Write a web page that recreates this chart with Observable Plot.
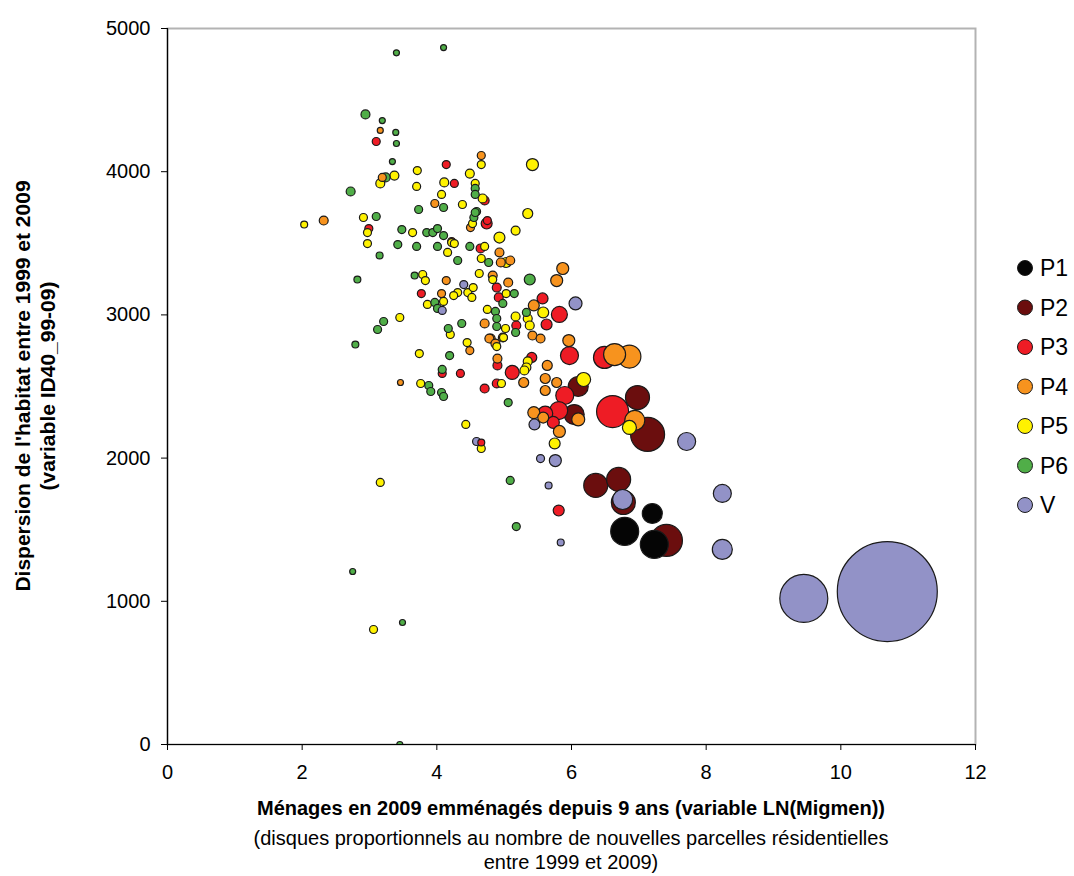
<!DOCTYPE html>
<html><head><meta charset="utf-8">
<script src="https://cdn.jsdelivr.net/npm/d3@7"></script>
<script src="https://cdn.jsdelivr.net/npm/@observablehq/plot@0.6"></script>
<style>
body{margin:0;background:#fff;}
#wrap{width:1074px;height:876px;}
</style></head><body><div id="wrap"></div>
<script>
// categories and colours
const groups = ["P1","P2","P3","P4","P5","P6","V"];
const colors = ["#050505","#6b0e0e","#ee1c25","#f7931e","#fff200","#50ae48","#9292c7"];
const xTicks = [0,2,4,6,8,10,12];
const yTicks = [0,1000,2000,3000,4000,5000];
// [LN(Migmen), ID40_99-09, nouvelles parcelles]
const P1 = [[7.20,1613,100],[6.79,1488,196],[7.23,1397,196]];
const P2 = [[6.10,2500,100],[6.98,2423,144],[7.13,2165,289],[6.04,2304,100],[6.36,1809,144],[6.70,1851,144],[6.77,1690,144],[7.41,1425,256]];
const P3 = [[3.10,4211,16],[4.14,4050,16],[4.26,3918,16],[4.71,3799,20],[4.75,3659,16],[2.99,3603,16],[4.74,3638,30],[4.65,3464,20],[4.89,3191,20],[4.92,3122,20],[3.77,3149,16],[5.18,2926,20],[5.57,3115,30],[5.82,3003,64],[5.63,2933,30],[4.08,2591,16],[4.35,2591,16],[4.90,2647,20],[5.12,2598,49],[4.71,2486,20],[4.89,2521,20],[4.66,2109,12],[5.81,1634,30],[5.41,2703,25],[5.97,2716,81],[6.49,2703,121],[5.90,2437,81],[6.61,2325,256],[5.81,2332,81],[5.61,2311,56],[5.73,2249,36],[4.22,3512,16]];
const P4 = [[3.16,4288,9],[4.66,4113,16],[3.19,3960,16],[3.97,3778,16],[2.32,3659,20],[4.50,3610,16],[4.93,3436,20],[4.95,3366,20],[5.09,3380,20],[4.83,3275,20],[5.06,3226,20],[5.78,3240,36],[5.87,3324,36],[4.14,3240,16],[4.07,3149,16],[5.44,3066,30],[4.71,2940,20],[4.80,2835,20],[4.98,2842,20],[5.42,2856,20],[5.54,2835,20],[4.49,2751,16],[4.90,2695,20],[5.64,2647,25],[5.29,2528,25],[5.61,2556,25],[5.61,2472,25],[5.78,2528,25],[3.46,2528,9],[4.78,2835,20],[4.87,2800,20],[5.96,2821,36],[6.64,2723,121],[6.86,2709,132],[6.94,2263,100],[6.10,2270,42],[5.44,2318,36],[5.58,2283,30],[5.82,2186,36]];
const P5 = [[4.66,4050,16],[5.42,4050,36],[3.71,4008,16],[3.37,3973,20],[3.16,3918,20],[3.70,3897,16],[4.11,3925,20],[4.49,3987,20],[4.57,3918,16],[4.68,3813,20],[4.07,3841,16],[4.38,3771,16],[5.35,3708,25],[2.91,3680,16],[2.03,3631,12],[2.97,3575,16],[2.97,3498,16],[3.64,3575,16],[4.22,3505,16],[4.26,3498,16],[4.16,3436,16],[4.53,3638,16],[4.93,3540,30],[5.17,3589,20],[4.71,3478,16],[4.66,3394,16],[5.03,3366,25],[4.63,3289,16],[4.83,3247,16],[5.03,3149,16],[3.79,3282,16],[3.83,3240,16],[4.31,3156,16],[4.46,3156,16],[4.54,3191,16],[4.52,3122,16],[4.25,3135,16],[4.10,3094,16],[3.86,3073,16],[4.75,3038,16],[5.02,2905,16],[5.17,2989,20],[5.58,3017,30],[5.35,2975,20],[5.38,2926,20],[4.89,2779,16],[3.45,2982,16],[4.20,2863,16],[4.45,2807,16],[3.74,2730,16],[5.35,2675,20],[5.33,2633,20],[5.30,2612,20],[4.96,2521,16],[3.76,2521,16],[4.43,2235,16],[4.66,2067,16],[3.16,1830,16],[5.75,2102,30],[6.18,2549,49],[6.86,2214,49],[3.06,803,16],[4.99,2842,16]];
const P6 = [[3.40,4830,9],[4.10,4867,9],[2.94,4400,20],[3.19,4357,9],[3.39,4274,9],[3.40,4197,9],[3.34,4071,9],[3.24,3960,20],[4.57,3883,16],[4.57,3841,16],[2.72,3862,20],[4.10,3750,16],[3.73,3736,16],[4.59,3722,16],[4.55,3680,16],[3.10,3687,16],[3.15,3415,12],[2.82,3247,12],[3.48,3596,16],[3.85,3575,16],[3.94,3575,16],[4.01,3603,16],[4.10,3554,16],[3.42,3491,16],[3.70,3478,16],[4.01,3478,16],[4.31,3380,16],[4.49,3478,16],[4.77,3366,16],[5.38,3247,30],[5.15,3149,16],[3.67,3275,12],[3.97,3087,16],[4.01,3045,16],[4.87,3024,16],[4.89,2975,16],[4.89,2919,16],[4.98,3080,16],[5.33,3017,16],[5.17,2877,16],[3.21,2954,16],[3.12,2898,16],[2.79,2793,12],[4.17,2905,16],[4.37,2940,16],[4.19,2716,16],[4.08,2619,16],[3.88,2507,16],[3.91,2465,16],[4.07,2458,16],[4.10,2430,16],[5.06,2388,16],[5.09,1844,16],[5.18,1522,16],[2.75,1208,9],[3.49,852,9],[3.45,0,9],[4.57,3715,16]];
const V = [[4.40,3212,16],[4.08,3031,16],[6.06,3080,42],[4.59,2116,16],[5.54,1997,16],[5.76,1983,36],[5.45,2235,30],[5.66,1809,12],[5.84,1411,12],[7.71,2116,81],[8.24,1753,81],[8.24,1362,100],[6.76,1711,100],[9.45,1020,576],[10.69,1068,2500]];

const series = {P1, P2, P3, P4, P5, P6, V};
const data = [];
for (const g of groups) for (const [x, y, n] of series[g]) data.push({g, x, y, n});
data.sort((a, b) => b.n - a.n);

const FONT = "'Liberation Sans', Arial, sans-serif";
const chart = Plot.plot({
  width: 1074, height: 876,
  marginLeft: 167, marginRight: 99, marginTop: 28, marginBottom: 132,
  style: {fontFamily: FONT, fontSize: "20px", color: "#000", background: "#fff"},
  x: {domain: [0, 12], label: null},
  y: {domain: [0, 5000], label: null},
  r: {type: "sqrt", domain: [0, 2500], range: [0, 50]},
  color: {domain: groups, range: colors},
  marks: [
    Plot.frame({stroke: "#b3b3b3", strokeWidth: 2}),
    Plot.dot(data, {x: "x", y: "y", r: "n", fill: "g", stroke: "#1a1a1a", strokeWidth: 1.2, clip: true}),
    Plot.ruleX([0], {stroke: "#000", strokeWidth: 1.2}),
    Plot.ruleY([0], {stroke: "#000", strokeWidth: 1.2}),
    Plot.axisX({ticks: xTicks, tickSize: 6, tickPadding: 14, fontSize: 20, label: null, tickFormat: d => String(d)}),
    Plot.axisY({ticks: yTicks, tickSize: 6, tickPadding: 11, fontSize: 20, label: null, tickFormat: d => String(d)})
  ]
});
document.getElementById("wrap").appendChild(chart);

const svg = d3.select(chart);
// y-axis title
const yt = svg.append("g").attr("transform", "translate(34,386) rotate(-90)")
  .attr("font-family", FONT).attr("font-weight", "bold").attr("font-size", 21).attr("text-anchor", "middle").attr("fill", "#000");
yt.append("text").attr("x", 0).attr("y", -12).attr("dominant-baseline", "central").text("Dispersion de l'habitat entre 1999 et 2009");
yt.append("text").attr("x", 0).attr("y", 13).attr("dominant-baseline", "central").text("(variable ID40_99-09)");
// x-axis title
const xt = svg.append("g").attr("font-family", FONT).attr("text-anchor", "middle").attr("fill", "#000");
xt.append("text").attr("x", 571).attr("y", 808).attr("dominant-baseline", "central").attr("font-weight", "bold").attr("font-size", 20)
  .text("Ménages en 2009 emménagés depuis 9 ans (variable LN(Migmen))");
xt.append("text").attr("x", 571).attr("y", 838).attr("dominant-baseline", "central").attr("font-size", 20)
  .text("(disques proportionnels au nombre de nouvelles parcelles résidentielles");
xt.append("text").attr("x", 571).attr("y", 862).attr("dominant-baseline", "central").attr("font-size", 20)
  .text("entre 1999 et 2009)");
// legend
const lg = svg.append("g").attr("font-family", FONT).attr("font-size", 23).attr("text-anchor", "start");
groups.forEach((g, i) => {
  const cy = 268 + i * 39.5;
  lg.append("circle").attr("cx", 1025).attr("cy", cy).attr("r", 7.5).attr("fill", colors[i]).attr("stroke", "#1a1a1a").attr("stroke-width", 1);
  lg.append("text").attr("x", 1040).attr("y", cy).attr("text-anchor", "start").attr("dominant-baseline", "central").attr("fill", "#000").text(g);
});
</script>
</body></html>
